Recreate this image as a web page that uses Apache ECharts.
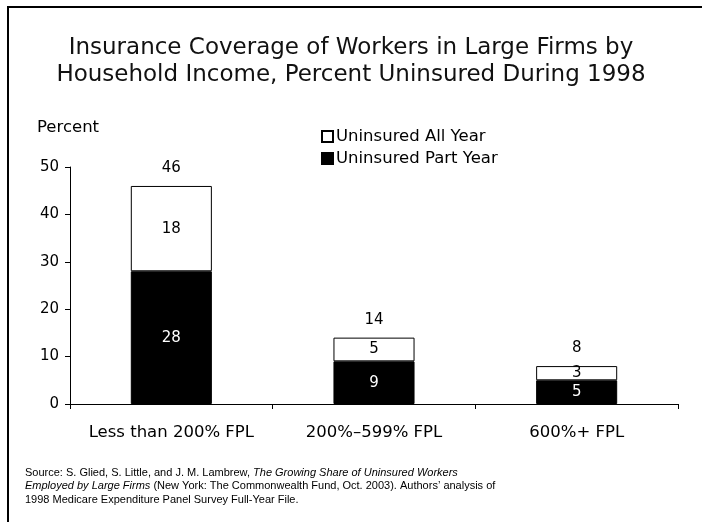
<!DOCTYPE html>
<html><head><meta charset="utf-8">
<script src="https://cdn.jsdelivr.net/npm/echarts@6/dist/echarts.min.js"></script>
<style>html,body{margin:0;padding:0;background:#fff}#c{width:702px;height:522px}</style>
</head><body><div id="c"></div>
<script>
const categories = ['Less than 200% FPL', '200%\u2013599% FPL', '600%+ FPL'];
const partYear = [28, 9, 5];
const allYear = [18, 5, 3];
const totals = [46, 14, 8];
const yTicks = [0, 10, 20, 30, 40, 50];
const seriesNames = ['Uninsured All Year', 'Uninsured Part Year'];

const FONT = 'DejaVu Sans';
const chart = echarts.init(document.getElementById('c'), null, {renderer: 'canvas'});
chart.setOption({
  animation: false,
  backgroundColor: '#fff',
  textStyle: {fontFamily: FONT, color: '#000'},
  title: {
    text: 'Insurance Coverage of Workers in Large Firms by\nHousehold Income, Percent Uninsured During 1998',
    left: 'center', top: 30,
    textStyle: {fontFamily: FONT, fontSize: 23, fontWeight: 'normal', color: '#111', lineHeight: 27}
  },
  graphic: [
    {type: 'rect', shape: {x: 8, y: 7, width: 700, height: 520}, style: {fill: 'none', stroke: '#000', lineWidth: 2}},
    {type: 'text', left: 37, top: 119, style: {text: 'Percent', fontFamily: FONT, fontSize: 16.5, fill: '#000'}},
    {type: 'text', left: 25, top: 467, style: {
      rich: {
        n: {fontFamily: 'Liberation Sans', fontSize: 11, fill: '#000', lineHeight: 13.7},
        i: {fontFamily: 'Liberation Sans', fontSize: 11, fontStyle: 'italic', fill: '#000', lineHeight: 13.7}
      },
      text: '{n|Source: S. Glied, S. Little, and J. M. Lambrew, }{i|The Growing Share of Uninsured Workers}\n{i|Employed by Large Firms}{n| (New York: The Commonwealth Fund, Oct. 2003). Authors\u2019 analysis of}\n{n|1998 Medicare Expenditure Panel Survey Full-Year File.}'
    }}
  ],
  legend: {
    data: seriesNames,
    orient: 'vertical', left: 316, top: 123,
    itemWidth: 11, itemHeight: 11, itemGap: 5,
    icon: 'rect',
    textStyle: {fontFamily: FONT, fontSize: 16.5, color: '#000', padding: [0,0,0,-2]}
  },
  grid: {left: 70, right: 24, top: 167, bottom: 118, containLabel: false},
  xAxis: {
    type: 'category', data: categories,
    axisLine: {lineStyle: {color: '#000', width: 1}},
    axisTick: {show: true, interval: 0, lineStyle: {color: '#000'}, length: 5},
    axisLabel: {interval: 0, hideOverlap: false, fontFamily: FONT, fontSize: 16.5, color: '#000', margin: 20}
  },
  yAxis: {
    type: 'value', min: yTicks[0], max: yTicks[yTicks.length - 1], interval: 10,
    splitLine: {show: false},
    axisLine: {show: true, lineStyle: {color: '#000', width: 1}},
    axisTick: {show: true, lineStyle: {color: '#000'}, length: 5},
    axisLabel: {fontFamily: FONT, fontSize: 15, color: '#000', margin: 11}
  },
  series: [
    {
      name: seriesNames[1], type: 'bar', stack: 's', data: partYear, barWidth: '40%',
      itemStyle: {color: '#000', borderColor: '#000', borderWidth: 1},
      label: {show: true, position: 'inside', color: '#fff', fontFamily: FONT, fontSize: 15}
    },
    {
      name: seriesNames[0], type: 'bar', stack: 's', data: allYear, barWidth: '40%',
      itemStyle: {color: '#fff', borderColor: '#000', borderWidth: 1},
      label: {show: true, position: 'inside', color: '#000', fontFamily: FONT, fontSize: 15}
    },
    {
      name: 'Total', type: 'line', data: totals, symbol: 'circle', symbolSize: 2,
      itemStyle: {color: 'rgba(0,0,0,0)', borderWidth: 0}, lineStyle: {width: 0, color: 'rgba(0,0,0,0)'}, silent: true,
      label: {show: true, position: 'top', distance: 9, color: '#000', fontFamily: FONT, fontSize: 15}
    }
  ]
});
</script></body></html>
